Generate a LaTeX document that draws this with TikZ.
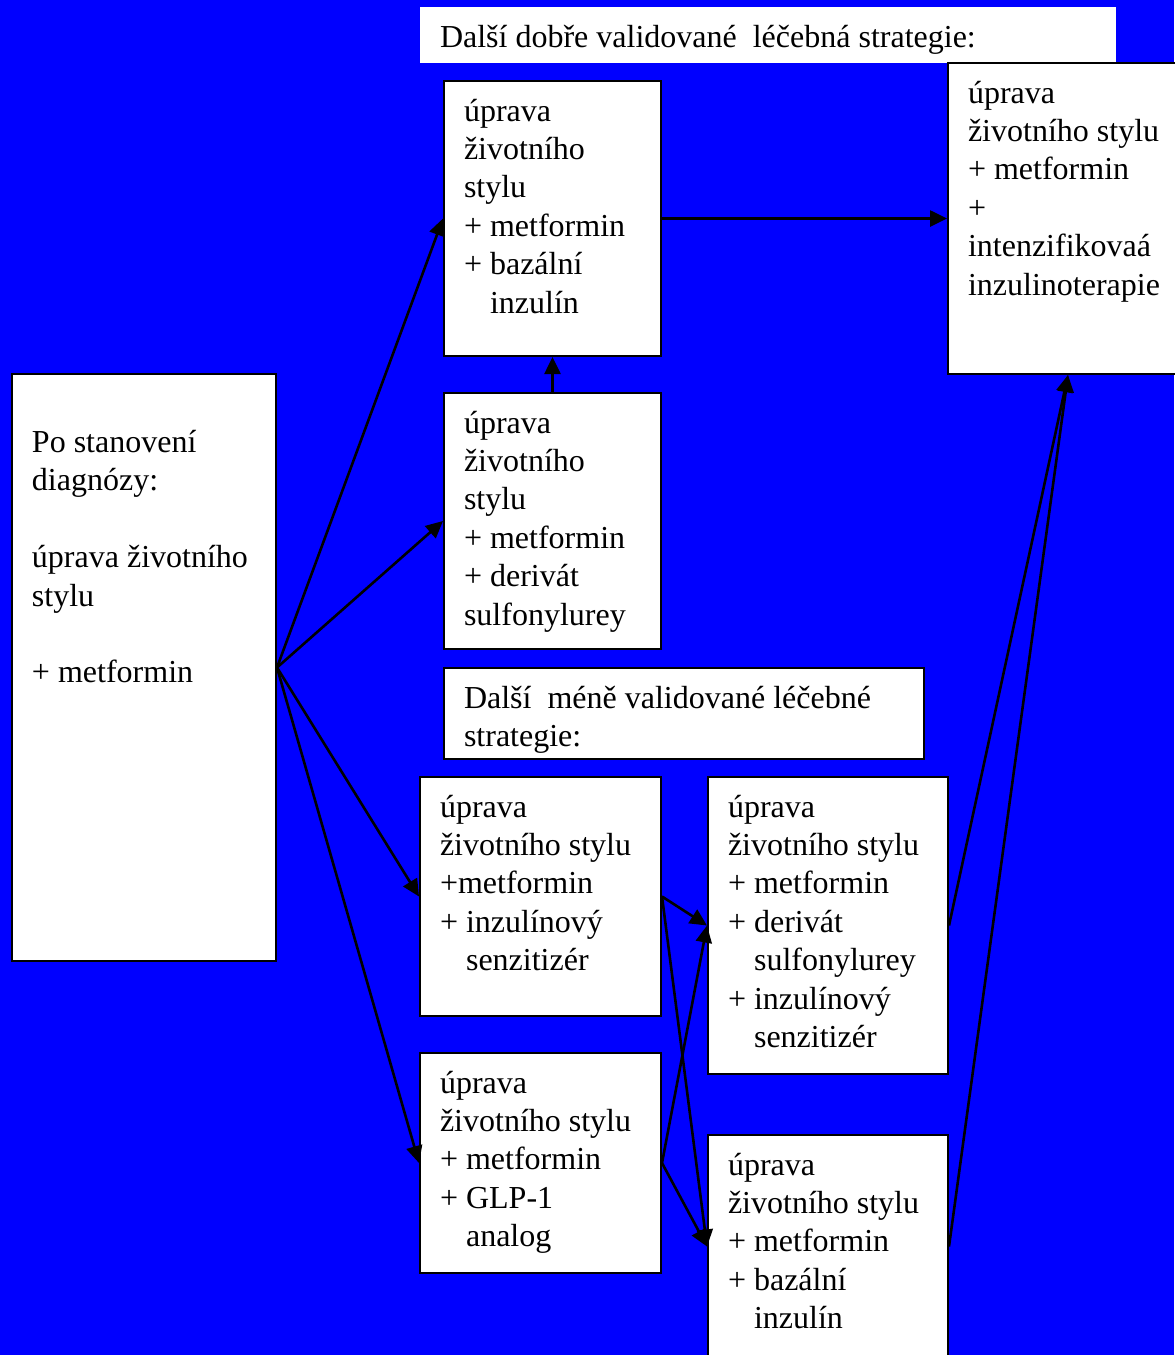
\documentclass[tikz,border=0pt]{standalone}
\usepackage{fontspec}
\setmainfont{Liberation Serif}
\usetikzlibrary{arrows.meta}

\definecolor{bgblue}{RGB}{0,0,255}
\newcommand{\boxtext}[3]{\parbox[t][#2][t]{\dimexpr#1-20pt\relax}{\raggedright\rule{0pt}{20pt}#3}}
\newcommand{\ind}{\phantom{+ }}

\tikzset{
  box/.style={draw=black, line width=1pt, fill=white, anchor=north west,
    inner xsep=10pt, inner ysep=0pt, font=\fontsize{16}{19.2}\selectfont},
  arr/.style={-{Triangle[length=8.5pt,width=8pt]}, line width=1.3pt}
}

\begin{document}
\begin{tikzpicture}[x=0.5pt,y=-0.5pt]
    \useasboundingbox (0,0) rectangle (1174,1355);
    \fill[bgblue] (0,0) rectangle (1174,1355);
    % headings
    \node[box, draw=none] (hdr1) at (419,6) {\boxtext{348pt}{28pt}{Další dobře validované\ \ léčebná strategie:}};
    \node[box] (hdr2) at (443,667) {\boxtext{240pt}{45.5pt}{Další\ \ méně validované léčebné\\strategie:}};
    % boxes
    \node[box] (L) at (11,373) {\boxtext{132pt}{293.5pt}{\\Po stanovení\\diagnózy:\\\mbox{}\\úprava životního\\stylu\\\mbox{}\\+ metformin}};
    \node[box] (A) at (443,80) {\boxtext{108.5pt}{137.5pt}{úprava\\životního\\stylu\\+ metformin\\+ bazální\\\ind inzulín}};
    \node[box] (B) at (443,392) {\boxtext{108.5pt}{128pt}{úprava\\životního\\stylu\\+ metformin\\+ derivát\\sulfonylurey}};
    \node[box] (R) at (947,62) {\boxtext{120pt}{155.5pt}{úprava\\životního stylu\\+ metformin\\+\\intenzifikovaá\\inzulinoterapie}};
    \node[box] (C) at (419,776) {\boxtext{120.5pt}{119.5pt}{úprava\\životního stylu\\+metformin\\+ inzulínový\\\ind senzitizér}};
    \node[box] (D) at (707,776) {\boxtext{120pt}{148.5pt}{úprava\\životního stylu\\+ metformin\\+ derivát\\\ind sulfonylurey\\+ inzulínový\\\ind senzitizér}};
    \node[box] (E) at (419,1052) {\boxtext{120.5pt}{110pt}{úprava\\životního stylu\\+ metformin\\+ GLP-1\\\ind analog}};
    \node[box] (F) at (707,1134) {\boxtext{120pt}{111.5pt}{úprava\\životního stylu\\+ metformin\\+ bazální\\\ind inzulín}};
    % arrows
    \draw[arr] (L.east) -- (A.west);
    \draw[arr] (L.east) -- (B.west);
    \draw[arr] (L.east) -- (C.west);
    \draw[arr] (L.east) -- (E.west);
    \draw[arr] (B.north) -- (A.south);
    \draw[arr] (A.east) -- (R.west);
    \draw[arr] (C.east) -- (D.west);
    \draw[arr] (C.east) -- (F.west);
    \draw[arr] (E.east) -- (D.west);
    \draw[arr] (E.east) -- (F.west);
    \draw[arr] (D.east) -- (R.south);
    \draw[arr] (F.east) -- (R.south);
\end{tikzpicture}
\end{document}
